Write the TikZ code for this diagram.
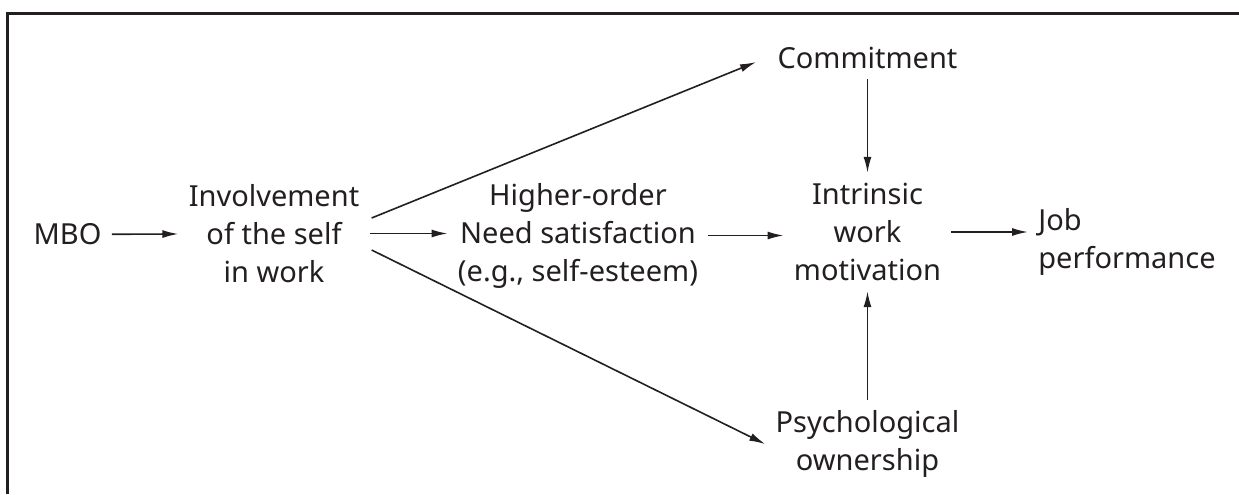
\documentclass[tikz,border=0pt]{standalone}
\usepackage{fontspec}
\setmainfont{Noto Sans}
\usetikzlibrary{arrows.meta,positioning}
\definecolor{ink}{HTML}{231F20}

\begin{document}
\begin{tikzpicture}[x=0.5pt,y=-0.5pt,text=ink,font=\fontsize{14.5}{19}\selectfont,
 box/.style={align=center,inner sep=5pt},
 arrow/.style={-{Latex[length=8pt,width=4pt]},line width=0.8pt,draw=ink}]
 \useasboundingbox (0,0) rectangle (1239,494);
 \draw[ink,line width=1.25pt] (1239,13.7) -- (7.5,13.7) -- (7.5,494);
 \node[box] (mbo) at (67.5,234.5) {MBO};
 \node[box] (inv) at (274,233.5) {Involvement\\of the self\\in work};
 \node[box] (need) at (578,235.5) {Higher-order\\Need satisfaction\\(e.g., self-esteem)};
 \node[box] (intr) at (867.5,232) {Intrinsic\\work\\motivation};
 \node[box,above=47pt of intr] (comm) {Commitment};
 \node[box,below=54.5pt of intr] (own) {Psychological\\ownership};
 \node[box,anchor=west,align=left] (perf) at (1028,241.5) {Job\\performance};
 \draw[arrow] (mbo) -- (inv);
 \draw[arrow] (inv.east) -- (inv.east -| need.west);
 \draw[arrow] (need.east) -- (need.east -| intr.west);
 \draw[arrow] (intr.east) -- (intr.east -| perf.west);
 \draw[arrow] (comm) -- (intr);
 \draw[arrow] (own) -- (intr);
 \draw[arrow,shorten >=6pt] ([xshift=1pt,yshift=7.75pt]inv.east) -- (comm.west);
 \draw[arrow] ([xshift=1pt,yshift=-8.25pt]inv.east) -- (own.west);
\end{tikzpicture}
\end{document}
